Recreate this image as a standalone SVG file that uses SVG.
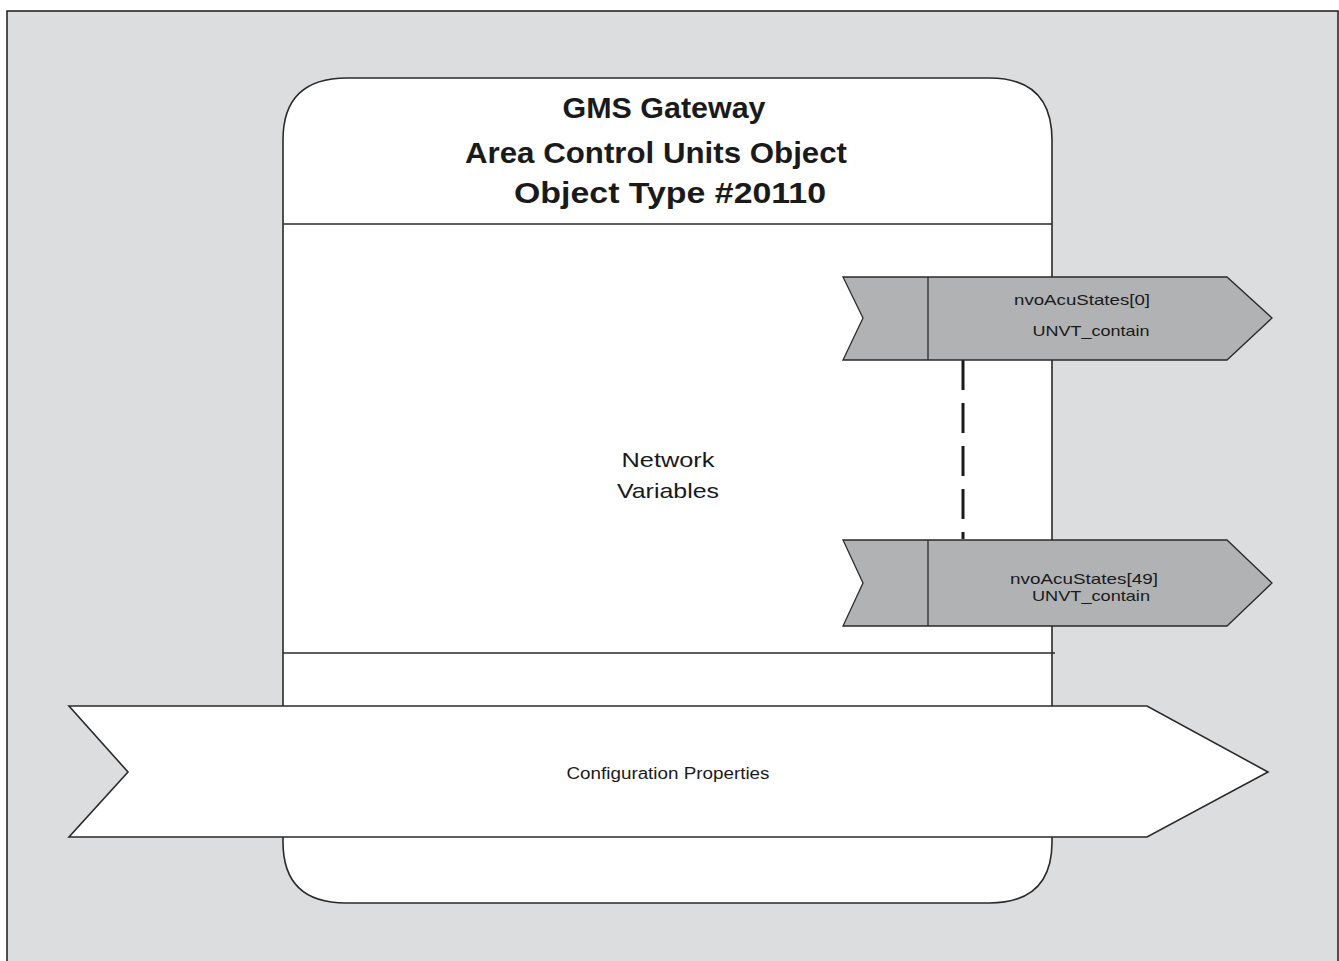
<svg xmlns="http://www.w3.org/2000/svg" width="1339" height="961" viewBox="0 0 1339 961">
<style>
.frame{fill:#dcdddf;stroke:#1a1a1a;stroke-width:1.5}
.body{fill:#ffffff;stroke:#2a2a2a;stroke-width:1.6}
.line{stroke:#2a2a2a;stroke-width:1.3;fill:none}
.nv{fill:#b1b2b4;stroke:#2a2a2a;stroke-width:1.3}
.cp{fill:#ffffff;stroke:#2a2a2a;stroke-width:1.6}
.title{font-family:"Liberation Sans",Arial,sans-serif;font-weight:bold;font-size:29px;fill:#1a1a1a;text-anchor:middle}
.lbl{font-family:"Liberation Sans",Arial,sans-serif;fill:#1a1a1a;text-anchor:middle}
</style>
<rect x="7" y="11" width="1331" height="960" class="frame"/>
<g id="object">
<path class="body" d="M283,140 Q283,78 347,78 L989,78 Q1052,78 1052,140 L1052,842 Q1052,903 989,903 L346,903 Q283,903 283,842 Z"/>
<line class="line" x1="283" y1="224" x2="1052" y2="224"/>
<line class="line" x1="283" y1="653" x2="1055" y2="653"/>
<text class="title" x="664" y="118" textLength="203" lengthAdjust="spacingAndGlyphs">GMS Gateway</text>
<text class="title" x="656" y="163" textLength="382" lengthAdjust="spacingAndGlyphs">Area Control Units Object</text>
<text class="title" x="670" y="203" textLength="312" lengthAdjust="spacingAndGlyphs">Object Type #20110</text>
</g>
<g id="network-variables-label">
<text class="lbl" x="668" y="467" font-size="21" textLength="93" lengthAdjust="spacingAndGlyphs">Network</text>
<text class="lbl" x="668" y="498" font-size="21" textLength="102" lengthAdjust="spacingAndGlyphs">Variables</text>
</g>
<g id="connectors">
<line x1="963" y1="360" x2="963" y2="539" stroke="#1a1a1a" stroke-width="3" stroke-dasharray="30 13"/>
</g>
<g id="nv0">
<path class="nv" d="M843,277 L1227,277 L1272,318 L1227,360 L843,360 L863,318 Z"/>
<line class="line" x1="928" y1="277" x2="928" y2="360"/>
<text class="lbl" x="1082" y="305" font-size="15" textLength="136" lengthAdjust="spacingAndGlyphs">nvoAcuStates[0]</text>
<text class="lbl" x="1091" y="336" font-size="15" textLength="117" lengthAdjust="spacingAndGlyphs">UNVT_contain</text>
</g>
<g id="nv49">
<path class="nv" d="M843,540 L1227,540 L1272,583 L1227,626 L843,626 L863,583 Z"/>
<line class="line" x1="928" y1="540" x2="928" y2="626"/>
<text class="lbl" x="1084" y="584" font-size="15" textLength="148" lengthAdjust="spacingAndGlyphs">nvoAcuStates[49]</text>
<text class="lbl" x="1091" y="601" font-size="15" textLength="118" lengthAdjust="spacingAndGlyphs">UNVT_contain</text>
</g>
<g id="config">
<path class="cp" d="M69,706 L1147,706 L1268,772 L1147,837 L69,837 L128,772 Z"/>
<text class="lbl" x="668" y="779" font-size="16" textLength="203" lengthAdjust="spacingAndGlyphs">Configuration Properties</text>
</g>
</svg>
